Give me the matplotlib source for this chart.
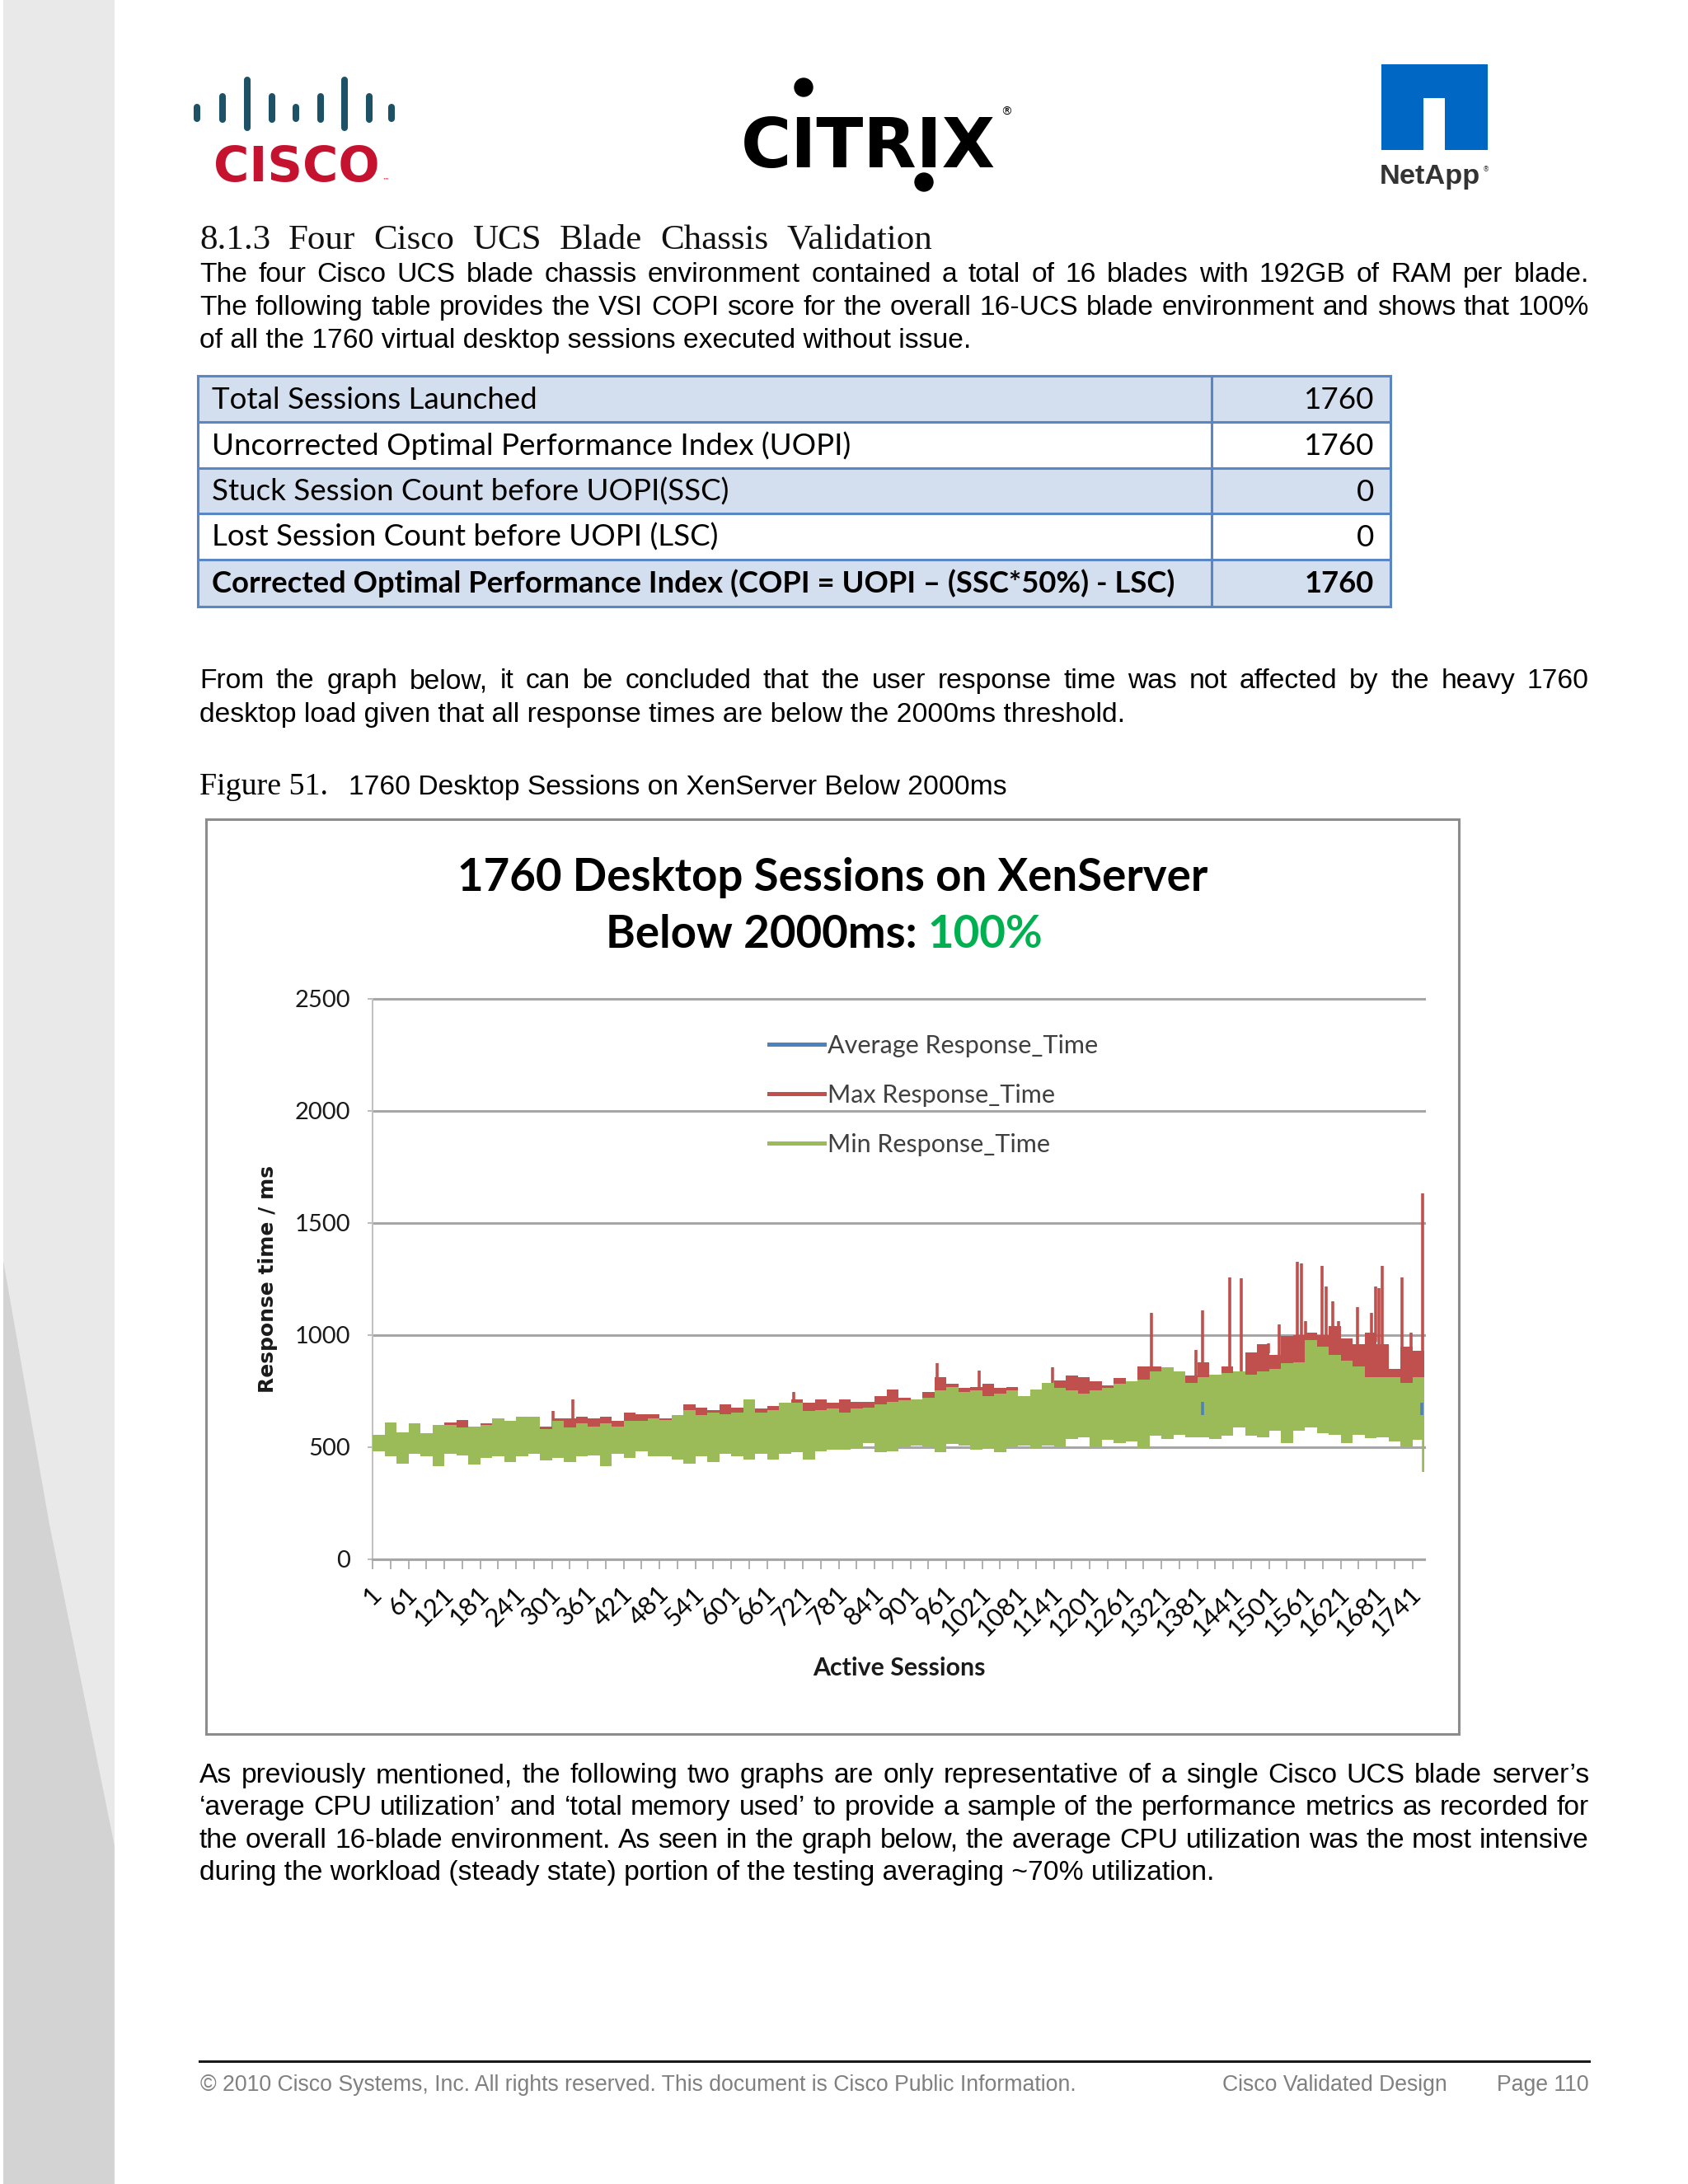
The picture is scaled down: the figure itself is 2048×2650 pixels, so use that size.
import numpy as np
import matplotlib
matplotlib.use("Agg")
import matplotlib.pyplot as plt
import matplotlib.transforms as mtransforms
from matplotlib.lines import Line2D
from matplotlib.patches import Rectangle, Circle
from matplotlib import font_manager

# ---------------- chart data (one value per 20 sessions) ----------------
n_sessions = 1760
bucket = 20

min_low = [483, 458, 428, 470, 458, 415, 470, 464, 422, 452,
           458, 434, 458, 470, 440, 452, 434, 458, 464, 415,
           470, 452, 483, 458, 458, 446, 428, 458, 434, 470,
           458, 446, 470, 446, 470, 477, 446, 483, 489, 489,
           495, 519, 477, 483, 501, 507, 501, 477, 513, 507,
           489, 495, 477, 501, 507, 495, 507, 501, 538, 544,
           501, 532, 519, 526, 495, 550, 538, 556, 544, 544,
           538, 550, 587, 550, 544, 575, 519, 575, 587, 563,
           556, 519, 556, 540, 545, 526, 501, 532]

min_high = [556, 611, 568, 605, 562, 599, 599, 587, 593, 599,
            630, 617, 636, 636, 581, 617, 587, 605, 593, 605,
            593, 617, 617, 630, 623, 642, 666, 642, 654, 648,
            654, 715, 654, 666, 697, 697, 660, 666, 672, 654,
            672, 678, 690, 703, 709, 715, 721, 752, 770, 746,
            752, 727, 740, 752, 727, 758, 788, 764, 752, 740,
            752, 764, 782, 795, 801, 837, 856, 837, 788, 813,
            825, 831, 837, 825, 837, 850, 874, 880, 978, 948,
            911, 886, 862, 813, 813, 813, 788, 813]

max_high = [540, 590, 550, 590, 550, 590, 611, 623, 585, 605,
            615, 605, 620, 625, 593, 630, 630, 636, 630, 636,
            617, 654, 648, 648, 630, 630, 690, 678, 666, 690,
            678, 700, 672, 684, 697, 715, 697, 715, 697, 715,
            703, 703, 727, 758, 721, 710, 746, 813, 782, 764,
            770, 782, 764, 770, 727, 750, 780, 798, 819, 813,
            795, 776, 807, 790, 862, 862, 850, 825, 819, 880,
            813, 862, 837, 923, 960, 911, 996, 1000, 1012, 1000,
            1040, 984, 960, 1012, 960, 850, 948, 929]

avg_resp = [512, 520, 505, 530, 515, 518, 528, 522, 510, 530,
            535, 525, 540, 545, 530, 548, 540, 545, 550, 535,
            548, 552, 560, 555, 550, 565, 570, 558, 562, 575,
            570, 585, 572, 580, 590, 588, 575, 590, 595, 600,
            598, 605, 600, 612, 615, 618, 620, 625, 630, 628,
            625, 630, 632, 640, 636, 642, 645, 640, 650, 655,
            650, 660, 655, 662, 668, 672, 675, 680, 678, 672,
            676, 682, 690, 688, 685, 692, 700, 705, 720, 725,
            715, 705, 700, 698, 695, 690, 680, 670]

# thin peaks of the max series
spike_sessions = [302, 336, 706, 946, 1015, 1139, 1304, 1378, 1389, 1435,
                  1454, 1490, 1500, 1518, 1532, 1548, 1555, 1562, 1589, 1596,
                  1608, 1617, 1649, 1672, 1679, 1684, 1690, 1723, 1732, 1739, 1758]
spike_values = [660, 715, 748, 874, 843, 856, 1100, 935, 1112, 1259,
                1253, 955, 962, 1049, 996, 1326, 1320, 1061, 1308, 1216,
                1149, 1061, 1124, 1100, 1216, 1210, 1308, 1259, 948, 1012, 1632]

min_dip_sessions = [1759]
min_dip_values = [390]
avg_peek_sessions = [1390, 1757]
avg_peek_low = [642, 645]
avg_peek_high = [703, 697]

series_names = ["Average Response_Time", "Max Response_Time", "Min Response_Time"]
tick_sessions = list(range(1, n_sessions + 1, 60))
y_ticks = [0, 500, 1000, 1500, 2000, 2500]

table_labels = ["Total Sessions Launched",
                "Uncorrected Optimal Performance Index (UOPI)",
                "Stuck Session Count before UOPI(SSC)",
                "Lost Session Count before UOPI (LSC)",
                "Corrected Optimal Performance Index (COPI = UOPI \u2013 (SSC*50%) - LSC)"]
table_values = ["1760", "1760", "0", "0", "1760"]

BLUE, RED, GREEN = "#4f81bd", "#c0504d", "#9bbb59"

# ---------------- page ----------------
W, H = 2048, 2650
fig = plt.figure(figsize=(W / 100, H / 100), dpi=100, facecolor="white")
pg = fig.add_axes([0, 0, 1, 1])
pg.set_xlim(0, W)
pg.set_ylim(H, 0)
pg.axis("off")
R = fig.canvas.get_renderer()

names = {f.name for f in font_manager.fontManager.ttflist}
narrow = "Liberation Sans Narrow" if "Liberation Sans Narrow" in names else "DejaVu Sans"


def tw(t):
    return t.get_window_extent(renderer=R).width


def fit(t, width):
    t.set_fontsize(t.get_fontsize() * width / tw(t))
    return t.get_fontsize()


def justified(line, x0, x1, y, **kw):
    words = line.split()
    ts = [pg.text(x0, y, w, va="baseline", ha="left", **kw) for w in words]
    ws = [tw(t) for t in ts]
    gap = (x1 - x0 - sum(ws)) / (len(ws) - 1)
    x = x0
    for t, w in zip(ts, ws):
        t.set_x(x)
        x += w + gap


# grey side band
pg.add_patch(Rectangle((4, 0), 135, H, color="#e9e9e9", lw=0))
pg.fill([4, 60, 139, 139, 4], [1530, 1850, 2240, H, H], color="#d3d3d3", lw=0)

# logos
bar_x = [239, 270, 300, 330, 359, 389, 418, 448, 475]
bar_kind = [0, 1, 2, 1, 0, 1, 2, 1, 0]
bar_span = {0: (126, 148), 1: (113, 149), 2: (93, 159)}
for bx, k in zip(bar_x, bar_kind):
    y0, y1 = bar_span[k]
    pg.plot([bx, bx], [y0 + 4, y1 - 4], color="#1d5266", lw=5.8, solid_capstyle="round")
t = pg.text(259, 220, "CISCO", family="DejaVu Sans", weight="bold", color="#c4122f",
            fontsize=40, va="baseline")
fit(t, 201)
pg.text(464, 222, "\u2122", fontsize=6, color="#c4122f", va="baseline")

ct = pg.text(899, 203, "CITRIX", family=narrow, weight="bold", color="black",
             fontsize=80, va="baseline")
fit(ct, 309)
pg.add_patch(Circle((975, 106), 11, color="black"))
pg.add_patch(Circle((1121, 221), 11, color="black"))
pg.text(1214, 140, "\u00ae", fontsize=10, color="black", va="baseline")

pg.add_patch(Rectangle((1676, 78), 129, 104, color="#0067c5", lw=0))
pg.add_patch(Rectangle((1727, 119), 26, 64, color="white", lw=0))
nt = pg.text(1674, 223, "NetApp", family="Liberation Sans", weight="bold", color="#333333",
             fontsize=20, va="baseline")
fit(nt, 122)
pg.text(1799, 208, "\u00ae", fontsize=6, color="#333333", va="baseline")

# heading and body text
RX = 1928
justified("8.1.3 Four Cisco UCS Blade Chassis Validation", 242, 1131, 302,
          family="Liberation Serif", fontsize=31, color="#111111")

bt = pg.text(242, 422, "of all the 1760 virtual desktop sessions executed without issue.",
             family="Liberation Sans", fontsize=22, color="black", va="baseline")
BS = fit(bt, 932)
body = dict(family="Liberation Sans", fontsize=BS, color="black")
justified("The four Cisco UCS blade chassis environment contained a total of 16 blades "
          "with 192GB of RAM per blade.", 242, RX, 342, **body)
justified("The following table provides the VSI COPI score for the overall 16-UCS blade "
          "environment and shows that 100%", 242, RX, 382, **body)

# table
row_tops = [456, 512, 568, 623, 679, 736]
row_fill = ["#d3dfee", "white", "#d3dfee", "white", "#d3dfee"]
TL, TD, TR = 240, 1470, 1687
for i in range(5):
    pg.add_patch(Rectangle((TL, row_tops[i]), TR - TL, row_tops[i + 1] - row_tops[i],
                           color=row_fill[i], lw=0))
for y in row_tops:
    pg.plot([TL, TR], [y, y], color="#5b86c5", lw=2.2)
for x in [TL, TD, TR]:
    pg.plot([x, x], [456, 736], color="#5b86c5", lw=2.2)
t = pg.text(257, 0, table_labels[1], family="Lato", fontsize=25, va="baseline")
TS = fit(t, 778)
t.remove()
tb = pg.text(257, 0, table_labels[4], family="Lato", weight="bold", fontsize=25, va="baseline")
TB = fit(tb, 1171)
tb.remove()
for i in range(5):
    kw = dict(family="Lato", fontsize=TB if i == 4 else TS, weight="bold" if i == 4 else "normal",
              color="black", va="baseline")
    pg.text(257, row_tops[i] + 40, table_labels[i], ha="left", **kw)
    pg.text(1667, row_tops[i] + 40, table_values[i], ha="right", **kw)

justified("From the graph below, it can be concluded that the user response time was not "
          "affected by the heavy 1760", 242, RX, 835, **body)
pg.text(242, 876, "desktop load given that all response times are below the 2000ms threshold.",
        va="baseline", **body)

cap = pg.text(242, 964, "Figure 51.", family="Liberation Serif", fontsize=20, color="black",
              va="baseline")
fit(cap, 156)
pg.text(423, 964, "1760 Desktop Sessions on XenServer Below 2000ms", va="baseline", **body)

# chart frame and titles
pg.add_patch(Rectangle((250, 994), 1520, 1110, fill=False, edgecolor="#8c8c8c", lw=2.2))
t1 = pg.text(1010, 1081, "1760 Desktop Sessions on XenServer", ha="center", va="baseline",
             family="Lato", weight="bold", fontsize=30, color="black")
FS = fit(t1, 909)
t2a = pg.text(0, 1150, "Below 2000ms:", family="Lato", weight="bold", fontsize=FS,
              color="black", va="baseline")
t2b = pg.text(0, 1150, "100%", family="Lato", weight="bold", fontsize=FS,
              color="#00b050", va="baseline")
gap = 0.23 * FS * 100 / 72
wa, wb = tw(t2a), tw(t2b)
x0 = 1000 - (wa + gap + wb) / 2
t2a.set_x(x0)
t2b.set_x(x0 + wa + gap)

# ---------------- chart ----------------
ax = fig.add_axes([452 / W, 1 - 1892 / H, 1276 / W, 680 / H])
ax.set_xlim(0.5, n_sessions + 0.5)
ax.set_ylim(0, 2500)

starts = np.arange(1, n_sessions + 1, bucket)
xs = np.append(starts, n_sessions + 0.5)


def ext(a):
    return np.append(a, a[-1])


ax.step(xs, ext(avg_resp), where="post", color=BLUE, lw=2, zorder=1)
ax.fill_between(xs, ext(min_low), ext(max_high), step="post", color=RED, lw=0, zorder=2)
idx = (np.array(spike_sessions) - 1) // bucket
ax.vlines(spike_sessions, np.array(max_high)[idx] - 40, spike_values, color=RED, lw=2.6, zorder=2)
ax.fill_between(xs, ext(min_low), ext(min_high), step="post", color=GREEN, lw=0, zorder=3)
idx = (np.array(min_dip_sessions) - 1) // bucket
ax.vlines(min_dip_sessions, min_dip_values, np.array(min_low)[idx] + 20, color=GREEN, lw=2.6, zorder=3)
ax.vlines(avg_peek_sessions, avg_peek_low, avg_peek_high, color=BLUE, lw=2.6, zorder=4)

for s in ["top", "right"]:
    ax.spines[s].set_visible(False)
ax.spines["left"].set_color("#c0c0c0")
ax.spines["left"].set_linewidth(1.4)
ax.spines["bottom"].set_color("#a6a6a6")
ax.spines["bottom"].set_linewidth(2.2)

ax.set_yticks(y_ticks)
ax.set_yticklabels([str(v) for v in y_ticks])
ax.yaxis.grid(True, color="#a6a6a6", lw=2.2)
for gl in ax.get_ygridlines():
    gl.set_clip_on(False)
ax.set_axisbelow(True)
ax.tick_params(axis="y", length=4.3, width=1.2, color="#b0b0b0", pad=15, labelsize=21,
               labelcolor="#1a1a1a")

ax.set_xticks(tick_sessions)
ax.set_xticklabels([str(s) for s in tick_sessions])
ax.set_xticks(np.arange(0.5, n_sessions - 19, 30), minor=True)
ax.tick_params(axis="x", which="major", length=0, pad=20, labelsize=22.5, labelcolor="black")
ax.tick_params(axis="x", which="minor", length=8.6, width=1.4, color="#b0b0b0")
offset = mtransforms.ScaledTranslation(-0.04, 0, fig.dpi_scale_trans)
for lab in ax.get_xticklabels():
    lab.set_rotation(45)
    lab.set_ha("right")
    lab.set_va("top")
    lab.set_rotation_mode("anchor")
    lab.set_family("Lato")
    lab.set_transform(lab.get_transform() + offset)
for lab in ax.get_yticklabels():
    lab.set_family("Lato")

yl = ax.set_ylabel("Response time / ms", family="DejaVu Sans", weight="bold", fontsize=17,
                   color="#1a1a1a")
yl.set_va("center")
ax.yaxis.set_label_coords((325 - 452) / 1276, 0.5)
yl.set_fontsize(yl.get_fontsize() * 276 / yl.get_window_extent(renderer=R).height)

xl = ax.set_xlabel("Active Sessions", family="Lato", weight="bold", fontsize=21, color="#1a1a1a")
xl.set_va("baseline")
ax.xaxis.set_label_coords((1091 - 452) / 1276, -(2033 - 1892) / 680)
fit(xl, 208)

handles = [Line2D([], [], color=c, lw=3.6) for c in (BLUE, RED, GREEN)]
leg = ax.legend(handles, series_names, loc="upper left", bbox_to_anchor=(933 / W, 1 - 1255 / H),
                bbox_transform=fig.transFigure, frameon=False, borderpad=0, borderaxespad=0,
                handlelength=2.2, handletextpad=0.12, labelspacing=1.05,
                prop={"family": "Lato", "size": 22})
for t in leg.get_texts():
    t.set_color("#404040")

# text after the chart
justified("As previously mentioned, the following two graphs are only representative of a "
          "single Cisco UCS blade server\u2019s", 242, RX, 2163, **body)
justified("\u2018average CPU utilization\u2019 and \u2018total memory used\u2019 to provide a "
          "sample of the performance metrics as recorded for", 242, RX, 2202, **body)
justified("the overall 16-blade environment. As seen in the graph below, the average CPU "
          "utilization was the most intensive", 242, RX, 2242, **body)
pg.text(242, 2281, "during the workload (steady state) portion of the testing averaging ~70% "
        "utilization.", va="baseline", **body)

# footer
pg.plot([242, RX], [2501, 2501], color="#1a1a1a", lw=2.2)
ft = pg.text(243, 2537, "\u00a9 2010 Cisco Systems, Inc. All rights reserved. This document is "
             "Cisco Public Information.", family="Liberation Sans", fontsize=19,
             color="#808080", va="baseline")
FF = fit(ft, 1066)
pg.text(1483, 2537, "Cisco Validated Design", family="Liberation Sans", fontsize=FF,
        color="#808080", va="baseline")
pg.text(RX, 2537, "Page 110", family="Liberation Sans", fontsize=FF, color="#808080",
        va="baseline", ha="right")

fig.savefig("out.png", dpi=100, facecolor="white")
